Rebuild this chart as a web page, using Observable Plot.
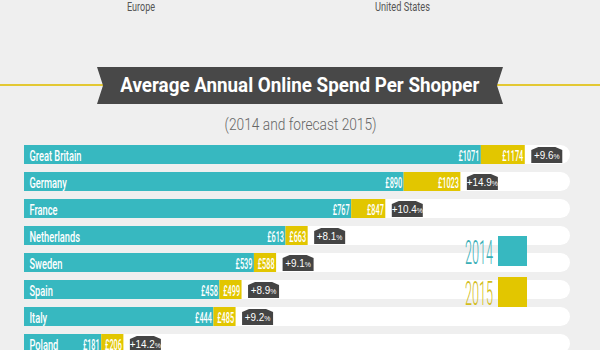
<!DOCTYPE html>
<html>
<head>
<meta charset="utf-8">
<script src="https://cdn.jsdelivr.net/npm/d3@7"></script>
<script src="https://cdn.jsdelivr.net/npm/@observablehq/plot@0.6"></script>
<style>
html, body { margin: 0; padding: 0; background: #efefef; overflow: hidden; width: 600px; height: 350px; }
#wrap { position: relative; width: 600px; height: 350px; overflow: hidden; font-family: Roboto, "Liberation Sans", sans-serif; }
.abs { position: absolute; white-space: nowrap; line-height: 1; }
.fit { display: inline-block; }
.region { font-size: 12.5px; color: #555; top: 0.5px; }
.region .fit { transform-origin: left center; }
.yline { position: absolute; top: 84px; height: 2px; background: #e3c833; }
#banner { position: absolute; left: 97px; top: 67px; width: 406px; height: 37px; background: #484848;
  clip-path: polygon(0 0, 100% 0, calc(100% - 6px) 50%, 100% 100%, 0 100%, 6px 50%); }
#title { left: 0; width: 600px; text-align: center; top: 74.5px; font-size: 20.5px; font-weight: 700; color: #fff; }
#title .fit, #sub .fit { transform-origin: center center; }
#sub { left: 0; width: 602px; text-align: center; top: 116.5px; font-size: 16px; font-weight: 300; color: #666; }
#chart { position: absolute; left: 0; top: 140px; }
.leg { font-size: 34px; font-weight: 300; left: 465px; }
.leg .fit { transform-origin: left center; }
.sq { position: absolute; left: 498px; width: 29px; height: 30px; }
</style>
</head>
<body>
<div id="wrap">
  <div class="abs region" style="left:127px"><span class="fit" data-w="28">Europe</span></div>
  <div class="abs region" style="left:375px"><span class="fit" data-w="55">United States</span></div>
  <div class="yline" style="left:0; width:103px"></div>
  <div class="yline" style="left:497px; width:103px"></div>
  <div id="banner"></div>
  <div class="abs" id="title"><span class="fit" data-w="359">Average Annual Online Spend Per Shopper</span></div>
  <div class="abs" id="sub"><span class="fit" data-w="152">(2014 and forecast 2015)</span></div>
  <div id="chart"></div>
  <div class="abs leg" style="top:234.5px; color:#3aafb7"><span class="fit" data-w="28">2014</span></div>
  <div class="sq" style="top:236px; background:#37b8c0"></div>
  <div class="abs leg" style="top:275.5px; color:#d3bd1c"><span class="fit" data-w="28">2015</span></div>
  <div class="sq" style="top:277px; background:#e2c600"></div>
</div>
<script>
// ---- data ----
const countries = ["Great Britain", "Germany", "France", "Netherlands", "Sweden", "Spain", "Italy", "Poland"];
const spend2014 = [1071, 890, 767, 613, 539, 458, 444, 181];
const spend2015 = [1174, 1023, 847, 663, 588, 499, 485, 206];
const growth = ["+9.6", "+14.9", "+10.4", "+8.1", "+9.1", "+8.9", "+9.2", "+14.2"];
const trackMax = 1280;      // right end of the white track (£)
const minSegment = 52;      // minimum drawn width of the 2015 segment (£) so its label fits

const teal = "#37b8c0", yellow = "#e2c600", dark = "#444444";

const rows = countries.map((c, i) => ({
  country: c,
  v14: spend2014[i],
  v15: spend2015[i],
  end15: Math.max(spend2015[i], spend2014[i] + minSegment),
  growth: growth[i],
  track: trackMax
}));

// horizontal squeeze factors for the condensed lettering, measured on a canvas
const ctx2d = document.createElement("canvas").getContext("2d");
function textWidth(str, font) { ctx2d.font = font; return ctx2d.measureText(str).width; }
let nameScale = 52 / textWidth("Great Britain", "500 14.5px Roboto");
let valScale = 21 / textWidth("£1071", "500 15.5px Roboto");
if (!isFinite(nameScale) || nameScale <= 0) nameScale = 0.62;
if (!isFinite(valScale) || valScale <= 0) valScale = 0.5;
const badgeScale = 0.86;

// house-shaped badge symbol
const badge = {
  draw(ctx) {
    const w = 15.5, h = 8, cx = 7, cy = 3;
    ctx.moveTo(-w, h);
    ctx.lineTo(w, h);
    ctx.lineTo(w, -h + cy);
    ctx.lineTo(w - cx, -h);
    ctx.lineTo(-w + cx, -h);
    ctx.lineTo(-w, -h + cy);
    ctx.closePath();
  }
};

const chart = Plot.plot({
  width: 600,
  height: 220,
  marginTop: 5,
  marginBottom: 7,
  marginLeft: 24,
  marginRight: 30,
  style: { background: "transparent", fontFamily: "Roboto, 'Liberation Sans', sans-serif" },
  x: { domain: [0, trackMax], axis: null },
  y: { domain: countries, axis: null, paddingInner: 0.3, paddingOuter: 0 },
  marks: [
    Plot.barX(rows, { x1: 0, x2: "track", y: "country", fill: "white", rx: 9.5 }),
    Plot.barX(rows, { x1: 0, x2: "v14", y: "country", fill: teal }),
    Plot.barX(rows, { x1: "v14", x2: "end15", y: "country", fill: yellow }),
    Plot.text(rows, { x: 0, y: "country", text: "country", textAnchor: "start", dx: 5, dy: 1.5,
      fill: "white", fontSize: 14.5, fontWeight: 500 }),
    Plot.text(rows, { x: "v14", y: "country", text: d => "£" + d.v14, textAnchor: "end", dx: -2, dy: 1.5,
      fill: "white", fontSize: 15.5, fontWeight: 500 }),
    Plot.text(rows, { x: "end15", y: "country", text: d => "£" + d.v15, textAnchor: "end", dx: -2, dy: 1.5,
      fill: "white", fontSize: 15.5, fontWeight: 500 }),
    Plot.dot(rows, { x: "end15", y: "country", symbol: badge, fill: dark, stroke: null, dx: 21.5 }),
    Plot.text(rows, { x: "end15", y: "country", text: "growth", dx: 21.5, dy: 0.5,
      fill: "white", fontSize: 11.5, fontFamily: "'Liberation Sans', Arial, sans-serif" })
  ]
});
document.getElementById("chart").appendChild(chart);

const textGroups = d3.select(chart).selectAll('g[aria-label="text"]').nodes();
const [gNames, gV14, gV15, gBadge] = textGroups;

// percent sign as smaller tspan
d3.select(gBadge).selectAll("text").each(function () {
  const t = d3.select(this);
  const s = t.text();
  t.text(s);
  t.append("tspan").attr("font-size", 8).text("%");
});

// horizontal squeeze around each text's anchor (keeps Plot's em-based y offset)
function squeeze(g, s) {
  d3.select(g).selectAll("text").each(function () {
    const t = d3.select(this);
    const tr = t.attr("transform") || "";
    t.attr("transform", `${tr} scale(${s},1)`);
  });
}
squeeze(gNames, nameScale);
squeeze(gV14, valScale);
squeeze(gV15, valScale);
squeeze(gBadge, badgeScale);

// fit HTML labels to measured widths
document.querySelectorAll(".fit").forEach(el => {
  const w = el.getBoundingClientRect().width;
  if (w > 0) el.style.transform = `scaleX(${(+el.dataset.w) / w})`;
});
</script>
</body>
</html>
